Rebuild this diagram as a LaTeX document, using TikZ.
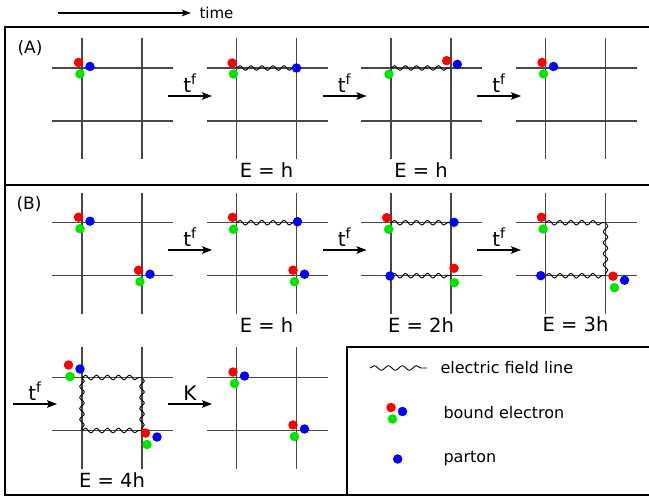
\documentclass[tikz,border=0pt]{standalone}
\usepackage{fontspec}
\setmainfont{DejaVu Sans}
\usepackage{tikz}
\usetikzlibrary{arrows.meta}
\usetikzlibrary{decorations.pathmorphing}

% one lattice cell, #1 name, (#2,#3) upper left crossing
\newcommand{\lattice}[3]{%
  \coordinate (#1tl) at (#2,#3);
  \coordinate (#1tr) at (#2+60,#3);
  \coordinate (#1bl) at (#2,#3+53);
  \coordinate (#1br) at (#2+60,#3+53);
  \draw[gridline] (#2-30,#3) -- (#2+91,#3);
  \draw[gridline] (#2-30,#3+53) -- (#2+91,#3+53);
  \draw[gridline] (#2,#3-30) -- (#2,#3+91);
  \draw[gridline] (#2+60,#3-30) -- (#2+60,#3+91);
}
% bound electron (three quarks) near a crossing
\newcommand{\electron}[3][0,0]{%
  \path (#3) ++(#1) ++(-3.5,-5.5) node[rdot] (#2r) {};
  \path (#3) ++(#1) ++(8,-1.5) node[bdot] (#2b) {};
  \path (#3) ++(#1) ++(-2,6) node[gdot] (#2g) {};
}

\begin{document}
\begin{tikzpicture}
    [x=1pt,y=-1pt,
    gridline/.style={draw=black!72,line width=1.1pt},
    field/.style={decorate,decoration={snake,amplitude=2.3pt,segment length=11pt},line width=0.9pt},
    rdot/.style={circle,fill=red,inner sep=0pt,minimum size=9.5pt},
    gdot/.style={circle,fill=green!90!black,inner sep=0pt,minimum size=9.5pt},
    bdot/.style={circle,fill=blue,inner sep=0pt,minimum size=9.5pt},
    hop/.style={-{Stealth[length=10pt,width=7.5pt,inset=2pt]},line width=1.3pt},
    hoplbl/.style={above=3pt,inner sep=0pt,font=\fontsize{20}{20}\selectfont},
    energy/.style={font=\fontsize{19.5}{20}\selectfont},
    panel/.style={font=\fontsize{17}{17}\selectfont},
    legend/.style={anchor=west,font=\fontsize{16}{16}\selectfont}]
    \useasboundingbox (0,0) rectangle (649,500);
    \clip (0,0) rectangle (649,500);
    % time axis
    \coordinate (t0) at (58,13);
    \coordinate (t1) at (191,13);
    \node[anchor=west,inner sep=0pt,font=\fontsize{15}{15}\selectfont] (time) at (199.3,13) {time};
    \draw[-{Stealth[length=9pt,width=6.5pt,inset=2pt]},line width=1.3pt] (t0) -- (t1);
    % frames
    \draw[line width=2.4pt] (5,27) rectangle (660,185);
    \draw[line width=2.4pt] (5,185) rectangle (660,495);
    \draw[line width=1.2pt] (347,347) rectangle (660,495);
    \node[panel] (A) at (30,48.5) {(A)};
    \node[panel] (B) at (29,204) {(B)};

    %% (A)
    \lattice{a1}{82}{68}
    \lattice{a2}{236.5}{68}
    \lattice{a3}{391}{68}
    \lattice{a4}{545.5}{68}
    \draw[field] (a2tl) -- (a2tr);
    \draw[field] (a3tl) -- (a3tr);
    \electron{e1}{a1tl}
    \path (a2tl) ++(-4.4,-5) node[rdot] (e2r) {};
    \path (a2tl) ++(-3,6) node[gdot] (e2g) {};
    \node[bdot] (e2b) at (a2tr) {};
    \path (a3tr) ++(-4.3,-7.3) node[rdot] (e3r) {};
    \path (a3tr) ++(6.3,-3.6) node[bdot] (e3b) {};
    \path (a3tl) ++(-2,6.3) node[gdot] (e3g) {};
    \electron{e4}{a4tl}
    \coordinate (h1s) at (168,96); \coordinate (h1e) at (212,96);
    \coordinate (h2s) at (322.5,96); \coordinate (h2e) at (366.5,96);
    \coordinate (h3s) at (477,96); \coordinate (h3e) at (521,96);
    \draw[hop] (h1s) -- node[hoplbl] {t\textsuperscript{f}} (h1e);
    \draw[hop] (h2s) -- node[hoplbl] {t\textsuperscript{f}} (h2e);
    \draw[hop] (h3s) -- node[hoplbl] {t\textsuperscript{f}} (h3e);
    \node[energy] (ea2) at (266.5,170) {E = h};
    \node[energy] (ea3) at (421,170) {E = h};

    %% (B), upper row
    \lattice{b1}{82}{222.7}
    \lattice{b2}{236.5}{222.7}
    \lattice{b3}{391}{222.7}
    \lattice{b4}{545.5}{222.7}
    \draw[field] (b2tl) -- (b2tr);
    \draw[field] (b3tl) -- (b3tr);
    \draw[field] (b3bl) -- (b3br);
    \draw[field] (b4tl) -- (b4tr);
    \draw[field] (b4tr) -- (b4br);
    \draw[field] (b4bl) -- (b4br);
    \electron{f1}{b1tl}
    \electron{g1}{b1br}
    \path (b2tl) ++(-4,-5.4) node[rdot] (f2r) {};
    \path (b2tl) ++(-3,6.6) node[gdot] (f2g) {};
    \path (b2tr) ++(1,-1) node[bdot] (f2b) {};
    \electron{g2}{b2br}
    \path (b3tl) ++(-4.3,-5) node[rdot] (f3r) {};
    \path (b3tl) ++(-2.3,6.6) node[gdot] (f3g) {};
    \path (b3tr) ++(3,-0.4) node[bdot] (f3b) {};
    \path (b3bl) ++(-1,0.3) node[bdot] (g3b) {};
    \path (b3br) ++(3,-7.4) node[rdot] (g3r) {};
    \path (b3br) ++(3.3,7) node[gdot] (g3g) {};
    \path (b4tl) ++(-4,-5.4) node[rdot] (f4r) {};
    \path (b4tl) ++(-2.4,6.3) node[gdot] (f4g) {};
    \path (b4bl) ++(-4.7,0) node[bdot] (g4b) {};
    \electron[11,6]{g4}{b4br}
    \coordinate (k1s) at (168,250); \coordinate (k1e) at (212,250);
    \coordinate (k2s) at (322.5,250); \coordinate (k2e) at (366.5,250);
    \coordinate (k3s) at (477,250); \coordinate (k3e) at (521,250);
    \draw[hop] (k1s) -- node[hoplbl] {t\textsuperscript{f}} (k1e);
    \draw[hop] (k2s) -- node[hoplbl] {t\textsuperscript{f}} (k2e);
    \draw[hop] (k3s) -- node[hoplbl] {t\textsuperscript{f}} (k3e);
    \node[energy] (eb2) at (266.5,324.7) {E = h};
    \node[energy] (eb3) at (421,324.7) {E = 2h};
    \node[energy] (eb4) at (575.5,324.7) {E = 3h};

    %% (B), lower row
    \lattice{c1}{82}{377.5}
    \lattice{c2}{236.5}{377.5}
    \draw[field] (c1tl) -- (c1tr);
    \draw[field] (c1tr) -- (c1br);
    \draw[field] (c1bl) -- (c1br);
    \draw[field] (c1tl) -- (c1bl);
    \electron[-10,-7]{m1}{c1tl}
    \electron[7,8]{n1}{c1br}
    \electron{m2}{c2tl}
    \electron{n2}{c2br}
    \coordinate (l1s) at (13,404); \coordinate (l1e) at (57,404);
    \coordinate (l2s) at (168,404); \coordinate (l2e) at (212,404);
    \draw[hop] (l1s) -- node[hoplbl] {t\textsuperscript{f}} (l1e);
    \draw[hop] (l2s) -- node[hoplbl] {K} (l2e);
    \node[energy] (ec1) at (112,480) {E = 4h};

    %% legend
    \coordinate (w0) at (370,368); \coordinate (w1) at (427,368);
    \draw[field,decoration={segment length=14pt}] (w0) -- (w1);
    \node[legend] (lw) at (437,368) {electric field line};
    \coordinate (lx) at (394.5,413);
    \electron{le}{lx}
    \node[legend] (lb) at (440,412.7) {bound electron};
    \node[bdot] (lp) at (397.7,459) {};
    \node[legend] (lpt) at (440,459) {parton};
\end{tikzpicture}
\end{document}
